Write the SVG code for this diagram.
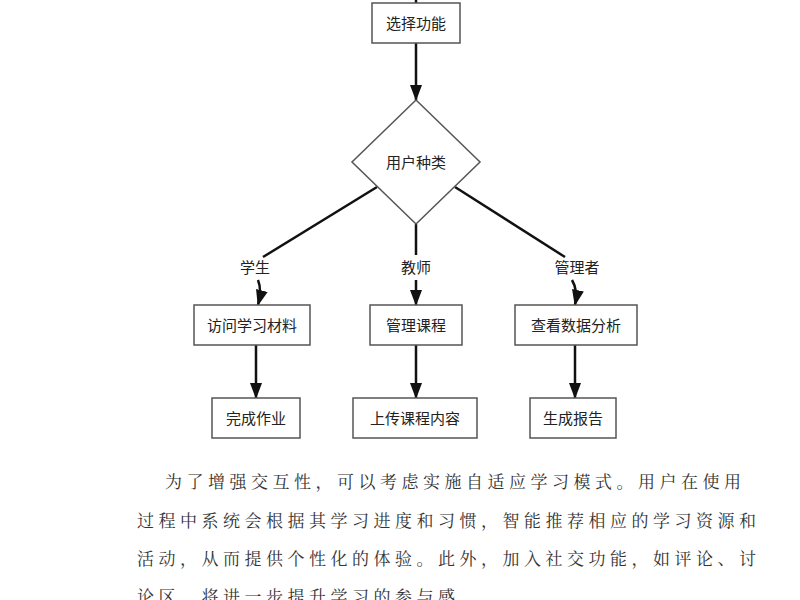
<svg xmlns="http://www.w3.org/2000/svg" width="800" height="600" viewBox="0 0 800 600">
<style>
.b{fill:#fff;stroke:#555;stroke-width:1.5}
.t{font-family:"Noto Sans CJK SC",sans-serif;font-size:15px;fill:#222;text-anchor:middle}
.c{stroke:#111;stroke-width:2.5;fill:none}
.p{font-family:"Noto Serif CJK SC","Noto Sans CJK SC",serif;font-size:17px;fill:#333;letter-spacing:4.5px}
</style>
<defs><marker id="a" markerWidth="8" markerHeight="8" refX="7" refY="4" orient="auto" markerUnits="userSpaceOnUse" viewBox="0 0 8 8"><path d="M0,0L8,4L0,8z" fill="#111"/></marker>
<marker id="ah" markerWidth="16" markerHeight="16" refX="15" refY="8" orient="auto" markerUnits="userSpaceOnUse" viewBox="0 0 16 16"><path d="M0,2L16,8L0,14z" fill="#111"/></marker></defs>
<rect width="800" height="600" fill="#fff"/>
<g id="connectors">
<path class="c" d="M416,0V3"/>
<path class="c" d="M416,43V100" marker-end="url(#ah)"/>
<path class="c" d="M377,187L263,257"/>
<path class="c" d="M416,224V255"/>
<path class="c" d="M455,187L565,257"/>
<path class="c" d="M258,280Q262,290 258,305" marker-end="url(#ah)"/>
<path class="c" d="M416,280V305" marker-end="url(#ah)"/>
<path class="c" d="M572,280Q578,290 575,305" marker-end="url(#ah)"/>
<path class="c" d="M256,345V398" marker-end="url(#ah)"/>
<path class="c" d="M416,345V398" marker-end="url(#ah)"/>
<path class="c" d="M575,345V398" marker-end="url(#ah)"/>
<text class="t" x="255" y="273">学生</text>
<text class="t" x="416" y="273">教师</text>
<text class="t" x="577" y="273">管理者</text>
</g>
<g id="select"><rect class="b" x="372" y="3" width="88" height="40"/><text class="t" x="416" y="29">选择功能</text></g>
<g id="usertype"><path class="b" d="M416,100L480,162L416,224L352,162z"/><text class="t" x="416" y="168">用户种类</text></g>
<g id="access"><rect class="b" x="194" y="305" width="116" height="40"/><text class="t" x="252" y="331">访问学习材料</text></g>
<g id="manage"><rect class="b" x="370" y="305" width="92" height="40"/><text class="t" x="416" y="331">管理课程</text></g>
<g id="data"><rect class="b" x="515" y="305" width="122" height="40"/><text class="t" x="576" y="331">查看数据分析</text></g>
<g id="homework"><rect class="b" x="212" y="398" width="88" height="40"/><text class="t" x="256" y="424">完成作业</text></g>
<g id="upload"><rect class="b" x="353" y="398" width="124" height="40"/><text class="t" x="415" y="424">上传课程内容</text></g>
<g id="report"><rect class="b" x="530" y="398" width="86" height="40"/><text class="t" x="573" y="424">生成报告</text></g>
<text class="p" x="165" y="488">为了增强交互性，可以考虑实施自适应学习模式。用户在使用</text>
<text class="p" x="137" y="527">过程中系统会根据其学习进度和习惯，智能推荐相应的学习资源和</text>
<text class="p" x="137" y="565">活动，从而提供个性化的体验。此外，加入社交功能，如评论、讨</text>
<text class="p" x="137" y="603">论区、将进一步提升学习的参与感</text>
</svg>
